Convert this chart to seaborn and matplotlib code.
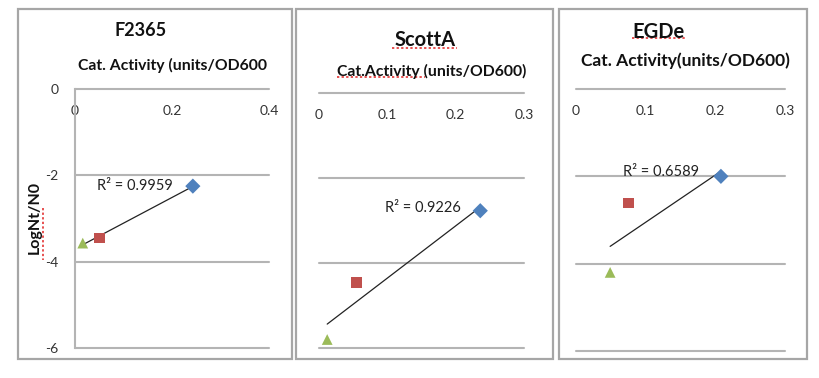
import numpy as np
import pandas as pd
import seaborn as sns
import matplotlib.pyplot as plt
from matplotlib.patches import Rectangle
from matplotlib.lines import Line2D

# data
strains = ['F2365', 'ScottA', 'EGDe']
samples = ['diamond', 'square', 'triangle']
f2365_act = [0.243, 0.050, 0.016]
f2365_log = [-2.25, -3.45, -3.57]
scotta_act = [0.236, 0.055, 0.012]
scotta_log = [-2.77, -4.46, -5.80]
egde_act = [0.208, 0.075, 0.049]
egde_log = [-2.00, -2.61, -4.20]
r2_labels = ['R\u00b2 = 0.9959', 'R\u00b2 = 0.9226', 'R\u00b2 = 0.6589']
x_labels = ['Cat. Activity (units/OD600', 'Cat.Activity (units/OD600)',
            'Cat. Activity(units/OD600)']
x_maxes = [0.4, 0.3, 0.3]
x_ticks = [[0, 0.2, 0.4], [0, 0.1, 0.2, 0.3], [0, 0.1, 0.2, 0.3]]
x_ticklabels = [['0', '0.2', '0.4'], ['0', '0.1', '0.2', '0.3'],
                ['0', '0.1', '0.2', '0.3']]
y_ticks = [-6, -4, -2, 0]

acts = [f2365_act, scotta_act, egde_act]
logs = [f2365_log, scotta_log, egde_log]

sns.set_theme(style='white')
plt.rcParams['font.family'] = ['Lato', 'DejaVu Sans']

palette = {'diamond': '#4F81BD', 'square': '#C0504D', 'triangle': '#9BBB59'}
markers = {'diamond': 'D', 'square': 's', 'triangle': '^'}

W, H = 819, 378
fig = plt.figure(figsize=(W / 100, H / 100), dpi=100)


def fbox(l, t, r, b):
    return [l / W, 1 - b / H, (r - l) / W, (b - t) / H]


# layout in pixels (left, top, right, bottom)
frames = [(18, 9, 292, 359), (296, 9, 553, 359), (559, 9, 807, 359)]
axes_px = [(75, 89, 269, 348), (319, 93, 524, 348), (576, 89, 785, 351)]
title_pos = [(141, 30), (425, 40), (659, 32)]
title_size = [13, 14.5, 14.5]
xlabel_pos = [(78, 65), (337, 71), (581, 61)]
xlabel_size = [11.3, 11.3, 12.5]
r2_pos = [(0.045, -2.25), (0.097, -2.71), (0.067, -1.90)]

for l, t, r, b in frames:
    fig.add_artist(Rectangle((l / W, 1 - b / H), (r - l) / W, (b - t) / H,
                             transform=fig.transFigure, fill=False,
                             edgecolor='#a6a6a6', lw=1.6))

for i, strain in enumerate(strains):
    ax = fig.add_axes(fbox(*axes_px[i]))
    df = pd.DataFrame({'act': acts[i], 'log': logs[i], 'sample': samples})
    sns.regplot(data=df, x='act', y='log', scatter=False, ci=None,
                color='#222222', line_kws={'lw': 0.9}, ax=ax)
    sns.scatterplot(data=df, x='act', y='log', hue='sample', style='sample',
                    palette=palette, markers=markers, s=60, linewidth=0,
                    legend=False, ax=ax, zorder=3)
    ax.set_xlim(0, x_maxes[i])
    ax.set_ylim(-6, 0)
    ax.set_xticks(x_ticks[i])
    ax.set_xticklabels(x_ticklabels[i])
    ax.set_yticks(y_ticks)
    ax.set_yticklabels([str(v) for v in y_ticks])
    for v in y_ticks:
        ax.axhline(v, color='#b4b4b4', lw=1.5, clip_on=False, zorder=0)
    for s in ax.spines.values():
        s.set_visible(False)
    ax.tick_params(axis='x', length=0, labelbottom=False, labeltop=True,
                   pad=-20, labelsize=10, labelcolor='#333333')
    if i == 0:
        ax.spines['left'].set_visible(True)
        ax.spines['left'].set_color('#b4b4b4')
        ax.spines['left'].set_linewidth(1.5)
        ax.tick_params(axis='y', length=0, pad=12, labelsize=10,
                       labelcolor='#333333')
    else:
        ax.tick_params(axis='y', length=0, labelleft=False)
    ax.set_xlabel('')
    ax.set_ylabel('')
    ax.patch.set_alpha(0)
    ax.text(r2_pos[i][0], r2_pos[i][1], r2_labels[i], fontsize=10.5,
            ha='left', va='center', color='#222222')

    tx, ty = title_pos[i]
    fig.text(tx / W, 1 - ty / H, strain, ha='center', va='center',
             fontsize=title_size[i], fontweight='bold', color='#111111')
    lx, ly = xlabel_pos[i]
    fig.text(lx / W, 1 - ly / H, x_labels[i], ha='left', va='center',
             fontsize=xlabel_size[i], fontweight='bold', color='#111111')

fig.text(35 / W, 1 - 218 / H, 'LogNt/N0', rotation=90, ha='center',
         va='center', fontsize=11.5, fontweight='bold', color='#111111')

# spell-check underlines visible in the reference
squiggles = [((43, 208), (43, 260)), ((392, 48), (457, 48)),
             ((337, 77), (425, 77)), ((632, 38), (687, 38))]
for (x0, y0), (x1, y1) in squiggles:
    fig.add_artist(Line2D([x0 / W, x1 / W], [1 - y0 / H, 1 - y1 / H],
                          transform=fig.transFigure, color='#e02020',
                          lw=1.1, linestyle=(0, (1.5, 1.5))))

fig.savefig('out.png', dpi=100)
